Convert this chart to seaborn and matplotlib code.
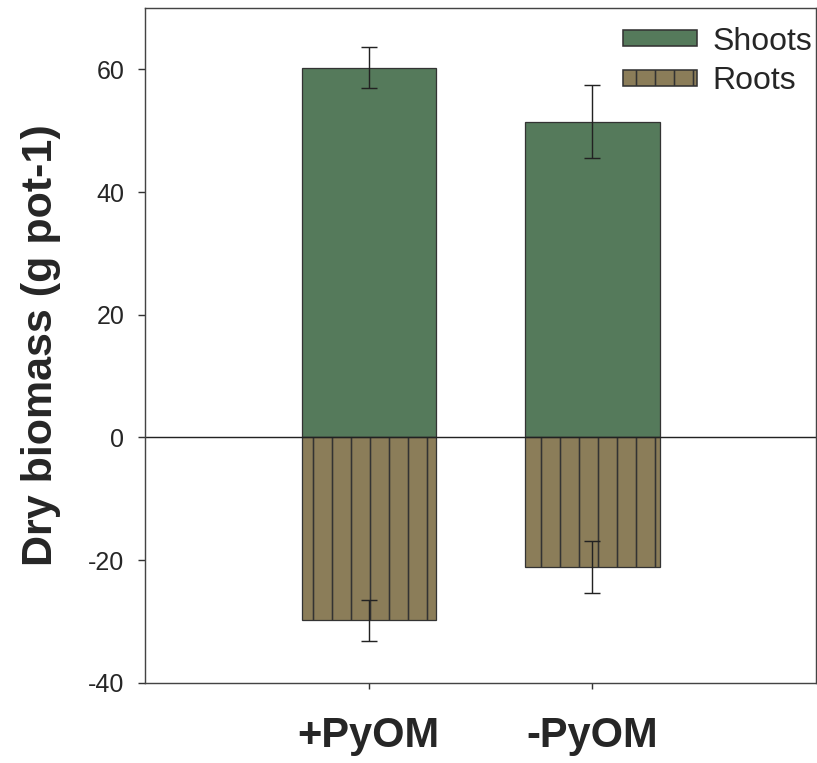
import numpy as np
import pandas as pd
import matplotlib
matplotlib.use("Agg")
import matplotlib.pyplot as plt
import seaborn as sns
from matplotlib.patches import Patch

treatments = ["+PyOM", "-PyOM"]
shoots = [60.3, 51.5]
shoots_err = [3.4, 6.0]
roots = [-29.8, -21.1]
roots_err = [3.3, 4.2]

shoot_color = "#557a5b"
root_color = "#8b7d59"

# hatch spacing follows dpi, so draw at 114 dpi and scale the font sizes
DPI = 114
k = 100 / DPI

sns.set_style("ticks")
plt.rcParams["font.family"] = ["Liberation Sans", "DejaVu Sans"]
plt.rcParams["axes.unicode_minus"] = False
plt.rcParams["hatch.linewidth"] = 1.0
plt.rcParams["hatch.color"] = "#1e1e1e"

df = pd.DataFrame({"treatment": treatments, "shoots": shoots, "roots": roots})

fig = plt.figure(figsize=(817 / DPI, 763 / DPI), dpi=DPI)
ax = fig.add_axes([0.1775, 0.105, 0.8215, 0.8845])

sns.barplot(data=df, x="treatment", y="shoots", color=shoot_color, width=0.6,
            saturation=1, edgecolor="#333333", linewidth=0.8, errorbar=None, ax=ax)
sns.barplot(data=df, x="treatment", y="roots", color=root_color, width=0.6,
            saturation=1, edgecolor="#333333", linewidth=0.8, errorbar=None,
            hatch="|", ax=ax)

x = np.arange(len(treatments))
ax.errorbar(x, shoots, yerr=shoots_err, fmt="none", ecolor="#222222",
            elinewidth=0.9, capsize=6 * k, capthick=0.9)
ax.errorbar(x, roots, yerr=roots_err, fmt="none", ecolor="#222222",
            elinewidth=0.9, capsize=6 * k, capthick=0.9)

ax.axhline(0, color="#222222", lw=0.9)
ax.set_xlim(-1, 2)
ax.set_ylim(-40, 70)
ax.set_yticks([-40, -20, 0, 20, 40, 60])
ax.set_xlabel("")
ax.set_ylabel("Dry biomass (g pot-1)", fontsize=31 * k, fontweight="bold",
              labelpad=19 * k)
ax.tick_params(axis="y", labelsize=18 * k, length=5 * k, width=0.9,
               color="#333333", pad=10 * k)
ax.tick_params(axis="x", labelsize=30 * k, length=4 * k, width=0.9,
               color="#333333", pad=20 * k)
for lab in ax.get_xticklabels():
    lab.set_fontweight("bold")
for s in ax.spines.values():
    s.set_visible(True)
    s.set_linewidth(0.9)
    s.set_color("#444444")

handles = [Patch(facecolor=shoot_color, edgecolor="#333333", label="Shoots"),
           Patch(facecolor=root_color, edgecolor="#333333", hatch="|", label="Roots")]
ax.legend(handles=handles, loc="upper right", bbox_to_anchor=(1.004, 0.982),
          frameon=False, fontsize=23 * k,
          handlelength=2.3, handleheight=0.4, labelspacing=0.3,
          borderaxespad=0.1, borderpad=0.1, handletextpad=0.5)

fig.savefig("out.png", dpi=DPI)
